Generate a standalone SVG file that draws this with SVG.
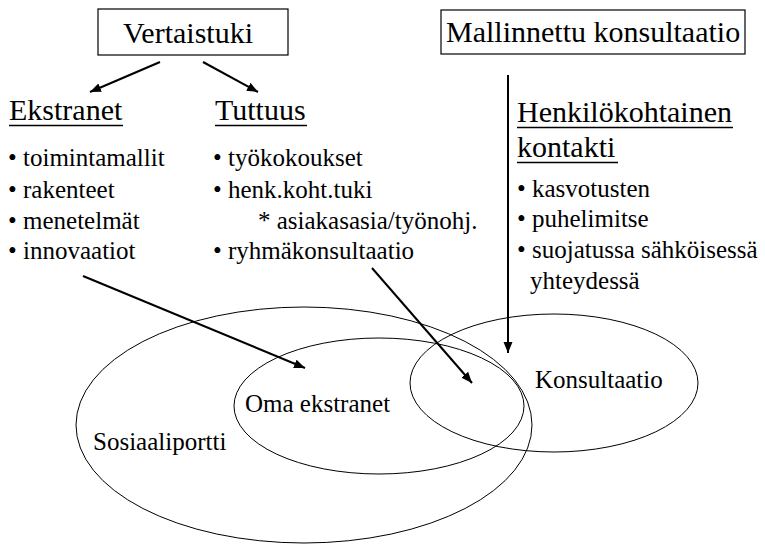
<svg xmlns="http://www.w3.org/2000/svg" width="765" height="544" viewBox="0 0 765 544">
<defs>
<marker id="ah" markerUnits="userSpaceOnUse" markerWidth="12" markerHeight="10" refX="11" refY="4.5" orient="auto">
<path d="M0,0 L11,4.5 L0,9 z" fill="#000"/>
</marker>
<style>
text{font-family:"Liberation Serif","Times New Roman",serif;fill:#000}
.h{font-size:30px}
.b{font-size:25px}
.box{fill:#fff;stroke:#000;stroke-width:1.2}
.ul{stroke:#000;stroke-width:1.6}
.ell{fill:none;stroke:#000;stroke-width:1}
.con{stroke:#000;stroke-width:2;fill:none;marker-end:url(#ah)}
</style>
</defs>
<rect width="765" height="544" fill="#fff"/>
<g id="sosiaaliportti">
<ellipse class="ell" cx="304" cy="425" rx="228" ry="118"/>
<text class="b" x="93" y="450">Sosiaaliportti</text>
</g>
<g id="oma-ekstranet">
<ellipse class="ell" cx="379" cy="406" rx="145" ry="68"/>
<text class="b" x="245" y="412">Oma ekstranet</text>
</g>
<g id="konsultaatio">
<ellipse class="ell" cx="554" cy="383" rx="144" ry="69"/>
<text class="b" x="535" y="388">Konsultaatio</text>
</g>
<g id="vertaistuki">
<rect class="box" x="98" y="9" width="190" height="46"/>
<text class="h" x="123" y="43">Vertaistuki</text>
</g>
<g id="mallinnettu">
<rect class="box" x="441" y="10" width="304" height="44"/>
<text class="h" x="446" y="42">Mallinnettu konsultaatio</text>
</g>
<g id="ekstranet">
<text class="h" x="9" y="120">Ekstranet</text>
<line class="ul" x1="9" y1="125.5" x2="123" y2="125.5"/>
<text class="b" x="8" y="166">• toimintamallit</text>
<text class="b" x="8" y="198">• rakenteet</text>
<text class="b" x="8" y="229">• menetelmät</text>
<text class="b" x="8" y="259">• innovaatiot</text>
</g>
<g id="tuttuus">
<text class="h" x="215" y="120">Tuttuus</text>
<line class="ul" x1="215" y1="125.5" x2="307" y2="125.5"/>
<text class="b" x="213" y="166">• työkokoukset</text>
<text class="b" x="213" y="198">• henk.koht.tuki</text>
<text class="b" x="258" y="229">* asiakasasia/työnohj.</text>
<text class="b" x="213" y="259">• ryhmäkonsultaatio</text>
</g>
<g id="henkilokohtainen">
<text class="h" x="517" y="122">Henkilökohtainen</text>
<line class="ul" x1="517" y1="127.5" x2="733" y2="127.5"/>
<text class="h" x="517" y="157">kontakti</text>
<line class="ul" x1="517" y1="162.5" x2="618" y2="162.5"/>
<text class="b" x="517" y="197">• kasvotusten</text>
<text class="b" x="517" y="227">• puhelimitse</text>
<text class="b" x="517" y="258">• suojatussa sähköisessä</text>
<text class="b" x="530" y="289">yhteydessä</text>
</g>
<g id="connectors">
<line class="con" x1="160" y1="62" x2="90" y2="92"/>
<line class="con" x1="203" y1="62" x2="258" y2="92"/>
<line class="con" x1="508" y1="75" x2="508" y2="353"/>
<line class="con" x1="83" y1="276" x2="305" y2="368"/>
<line class="con" x1="372" y1="268" x2="472" y2="383"/>
</g>
</svg>
